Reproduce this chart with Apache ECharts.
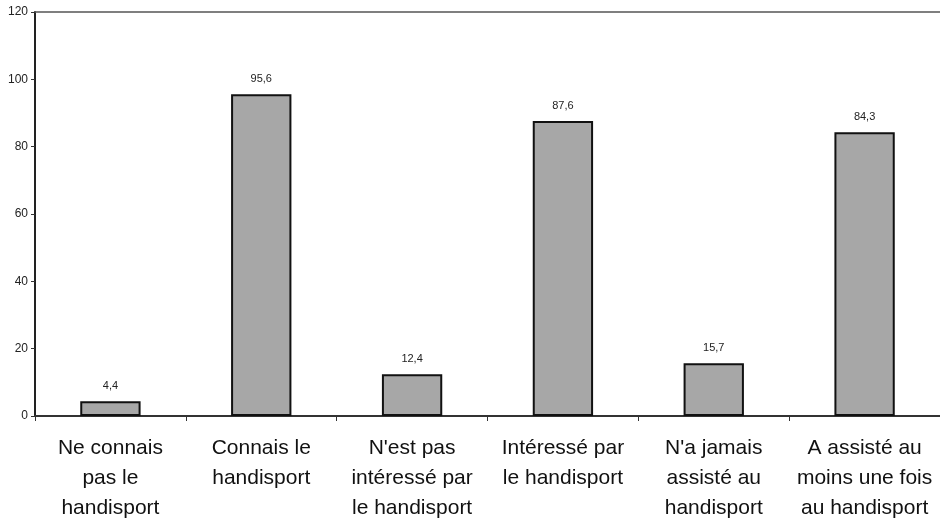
<!DOCTYPE html>
<html>
<head>
<meta charset="utf-8">
<script src="https://cdn.jsdelivr.net/npm/echarts@6/dist/echarts.min.js"></script>
<style>
  html, body { margin: 0; padding: 0; background: #fff; }
  #chart { width: 940px; height: 526px; }
</style>
</head>
<body>
<div id="chart"></div>
<script>
// catégories (retours à la ligne comme sur l'original)
const categories = [
  "Ne connais\npas le\nhandisport",
  "Connais le\nhandisport",
  "N'est pas\nintéressé par\nle handisport",
  "Intéressé par\nle handisport",
  "N'a jamais\nassisté au\nhandisport",
  "A assisté au\nmoins une fois\nau handisport"
];
const values = [4.4, 95.6, 12.4, 87.6, 15.7, 84.3];
const yTicks = [0, 20, 40, 60, 80, 100, 120];

const chart = echarts.init(document.getElementById("chart"));

const font = "'Liberation Sans', Arial, sans-serif";

chart.setOption({
  animation: false,
  grid: { left: 35, right: 0, top: 12, bottom: 110 },
  xAxis: [
    {
      type: "category",
      data: categories,
      axisLine: { lineStyle: { color: "#333", width: 2 } },
      axisTick: { show: true, length: 5, lineStyle: { color: "#333" } },
      axisLabel: {
        interval: 0,
        margin: 17,
        fontFamily: font,
        fontSize: 21,
        lineHeight: 30,
        color: "#111"
      }
    },
    {
      // ligne du haut du cadre
      type: "category",
      position: "top",
      data: categories,
      axisLine: { show: true, lineStyle: { color: "#555", width: 1.5 } },
      axisTick: { show: false },
      axisLabel: { show: false }
    }
  ],
  yAxis: {
    type: "value",
    min: yTicks[0],
    max: yTicks[yTicks.length - 1],
    interval: 20,
    axisLine: { show: true, lineStyle: { color: "#222", width: 2 } },
    axisTick: { show: true, length: 4, lineStyle: { color: "#333" } },
    splitLine: { show: false },
    axisLabel: {
      margin: 7,
      fontFamily: font,
      fontSize: 12,
      color: "#222"
    }
  },
  series: [
    {
      type: "bar",
      data: values,
      barWidth: "40%",
      itemStyle: {
        color: "#a7a7a7",
        borderColor: "#111",
        borderWidth: 2
      },
      label: {
        show: true,
        position: "top",
        distance: 10,
        fontFamily: font,
        fontSize: 11,
        color: "#222",
        formatter: (p) => String(p.value).replace(".", ",")
      }
    }
  ]
});
</script>
</body>
</html>
